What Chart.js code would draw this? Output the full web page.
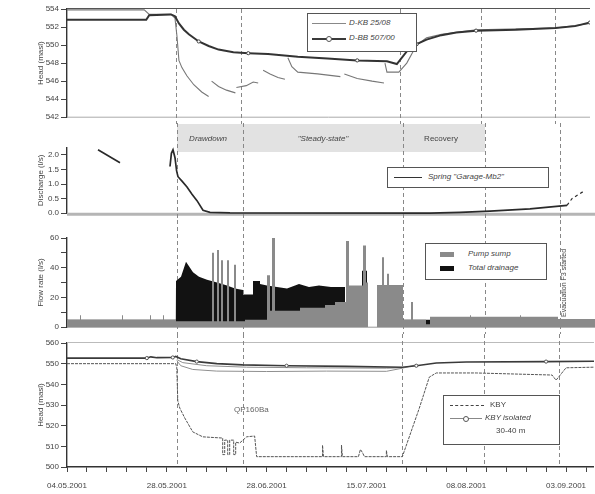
<!DOCTYPE html>
<html>
<head>
<meta charset="utf-8">
<script src="https://cdn.jsdelivr.net/npm/chart.js@4/dist/chart.umd.min.js"></script>
<style>
  body { margin:0; background:#fff; }
  #wrap { position:relative; width:595px; height:494px; background:#fff; overflow:hidden;
          font-family:"Liberation Sans", Arial, sans-serif; color:#444; }
  canvas { position:absolute; left:0; }
  .lg { position:absolute; border:1px solid #555; background:#fff; font-size:8px; }
  .ln { position:absolute; height:0; }
  .tx { position:absolute; white-space:nowrap; line-height:10px; font-size:8px; }
  .it { font-style:italic; }
  .dot { position:absolute; width:4px; height:4px; border:1px solid #555; border-radius:50%; background:#fff; }
  .sw { position:absolute; width:14px; height:5px; }
  .ctr { transform:translateX(-50%); }
</style>
</head>
<body>
<div id="wrap">
  <canvas id="c1" width="595" height="124" style="top:0"></canvas>
  <canvas id="c2" width="595" height="97" style="top:123px"></canvas>
  <canvas id="c3" width="595" height="114" style="top:220px"></canvas>
  <canvas id="c4" width="595" height="160" style="top:334px"></canvas>

  <div class="tx it ctr" style="left:208px;top:134px">Drawdown</div>
  <div class="tx it ctr" style="left:323px;top:134px">"Steady-state"</div>
  <div class="tx ctr" style="left:441px;top:134px">Recovery</div>

  <div class="lg" style="left:307px;top:13px;width:108px;height:37px">
    <div class="ln" style="left:4px;top:9px;width:34px;border-top:1px solid #888"></div>
    <div class="tx it" style="left:41px;top:4px">D-KB 25/08</div>
    <div class="ln" style="left:4px;top:24px;width:34px;border-top:2px solid #3a3a3a"></div>
    <div class="dot" style="left:18px;top:22px"></div>
    <div class="tx it" style="left:41px;top:19px">D-BB 507/00</div>
  </div>

  <div class="lg" style="left:387px;top:167px;width:160px;height:19px">
    <div class="ln" style="left:6px;top:9px;width:28px;border-top:1.5px solid #333"></div>
    <div class="tx it" style="left:40px;top:4px">Spring "Garage-Mb2"</div>
  </div>

  <div class="lg" style="left:425px;top:243px;width:120px;height:35px">
    <div class="sw" style="left:14px;top:8px;background:#8a8a8a"></div>
    <div class="tx it" style="left:42px;top:5px">Pump sump</div>
    <div class="sw" style="left:14px;top:22px;background:#111"></div>
    <div class="tx it" style="left:42px;top:19px">Total drainage</div>
  </div>

  <div class="lg" style="left:443px;top:395px;width:115px;height:48px">
    <div class="ln" style="left:6px;top:9px;width:34px;border-top:1px dashed #444"></div>
    <div class="tx" style="left:46px;top:4px">KBY</div>
    <div class="ln" style="left:6px;top:22px;width:32px;border-top:1px solid #888"></div>
    <div class="dot" style="left:19px;top:20px"></div>
    <div class="tx it" style="left:41px;top:17px">KBY isolated</div>
    <div class="tx" style="left:52px;top:30px">30-40 m</div>
  </div>

  <div class="tx" style="left:234px;top:405px;color:#666">QP160Ba</div>
  <div class="tx" style="left:564px;top:283px;font-size:7px;transform:translate(-50%,-50%) rotate(-90deg)">Evacuation F3 started</div>
</div>

<script>
Chart.defaults.font.family = '"Liberation Sans", Arial, sans-serif';
Chart.defaults.font.size = 8;
Chart.defaults.color = '#444';

// x in tick units (one minor tick of the date axis = 1)
const dateLabels = ['04.05.2001','28.05.2001','28.06.2001','15.07.2001','08.08.2001','03.09.2001'];
const phaseLines = [5.5, 8.8, 16.8, 20.9, 24.65];
const bandFrom = 5.5, bandTo = 20.9;

// head panel 1
const dbbX = [0,4.0,4.15,5.25,5.45,5.65,5.9,6.15,6.65,7.15,7.65,8.4,9.15,10.15,11.65,13.15,14.65,16.15,16.65,17.15,17.65,18.15,18.9,19.65,20.65,22.65,24.65,25.65,26.4];
const dbbY = [552.8,552.8,553.3,553.4,553.2,552.4,551.7,551.2,550.4,549.9,549.5,549.2,549.1,549.0,548.7,548.5,548.3,548.2,547.9,549.3,550.1,550.6,551.1,551.4,551.6,551.7,551.9,552.1,552.5];
const dkbX = [0,3.9,4.15,5.25,5.45,5.55,5.65,5.8,6.05,6.4,6.8,7.15,7.2,
              7.3,7.65,8.05,8.5,8.52,
              8.55,9.05,9.4,9.65,9.75,
              9.9,10.25,10.65,11.0,11.05,
              11.15,11.35,11.65,12.65,13.8,13.9,
              14.0,14.65,15.4,16.0,16.02,
              16.05,16.15,16.75,17.15,17.65,18.15,18.9,20.65,24.65,26.4];
const dkbY = [553.9,553.9,553.4,553.4,553.0,551.0,548.3,547.5,546.6,545.6,544.8,544.3,null,
              546.0,545.4,545.0,544.7,null,
              545.3,545.5,545.9,545.8,null,
              547.2,546.8,546.4,546.2,null,
              548.6,547.6,547.0,546.8,546.5,null,
              546.8,546.3,546.0,545.8,null,
              548.0,547.0,547.0,548.0,550.0,550.8,551.2,551.7,551.9,552.4];

// discharge panel
const springX = [1.55,2.65,2.7,5.15,5.22,5.3,5.4,5.48,5.55,5.75,6.0,6.25,6.5,6.8,7.15,8.15,18.15,19.65,21.15,23.15,25.0];
const springY = [2.17,1.73,null,1.6,2.05,2.17,1.9,1.45,1.25,1.1,0.9,0.65,0.43,0.1,0.03,0.01,0,0.03,0.07,0.15,0.27];
const springDashX = [25.0,25.25,25.9];
const springDashY = [0.27,0.5,0.78];

// flow rate panel
const sumpX = [0,0.65,0.7,2.75,2.8,4.15,4.2,4.8,4.85,5.45,7.25,7.35,7.5,7.6,7.7,7.8,8.0,8.1,8.35,8.45,8.9,10.0,10.15,10.25,10.4,11.65,12.9,13.4,13.95,14.1,14.8,14.95,15.05,15.5,15.75,15.85,16.0,16.1,16.8,17.2,17.3,17.95,18.15,20.15,20.2,22.65,22.7,24.55,26.4];
const sumpY = [5,8,5,8,5,8,5,8,5,4,50,4,52,4,45,4,45,4,42,4,5,35,11,60,11,13,15,17,58,28,55,30,0,28,47,28,36,28,5,17,5,2,7,8,7,8,7,5.5,5.5];
const drainX = [0,5.44,5.45,5.7,5.95,6.1,6.3,6.6,7.0,7.5,8.0,8.4,8.8,8.8,9.3,9.3,9.65,9.65,10.0,11.0,11.6,12.1,12.6,13.2,13.9,13.9,14.75,14.75,15.0,15.0,15.5,15.5,16.8,16.8,26.4];
const drainY = [5,5,31,34,44,41,37,34,32,30,28,26,25,22,22,31,31,29,28,26,29,27,28,27,27,5,5,38,38,0,0,28,28,5,5];

// head panel 4
const kbyX = [0,5.45,5.5,5.55,5.65,5.9,6.3,6.8,7.8,7.8,7.9,7.9,8.05,8.05,8.15,8.15,8.35,8.35,8.45,8.45,8.65,9.0,9.4,9.5,12.8,12.8,12.85,13.75,13.75,13.8,14.6,14.7,14.8,14.9,16.0,16.0,16.05,16.8,17.65,18.15,18.5,20.5,24.3,24.5,25.0,26.4];
const kbyY = [550,550,548,532,528.5,523.7,517,514.6,514,506,506,513,513,506,506,513,513,506,506,512,511.6,514.6,515,505,505,510.6,505,505,510.6,505,505,508.5,507,505,505,508,505,505,528.5,543.5,545.5,545.5,544.5,542,548,548.3];
const isoX = [0,4.0,4.2,4.5,5.3,5.45,5.7,6.5,7.5,8.8,11,14,16.8,17.5,18.5,20,24,26.4];
const isoY = [552.7,552.7,553.3,552.9,553.0,553.5,552.4,551,550,549.4,549,548.7,548.3,549,550.3,550.8,551,551.2];
const low1X = [5.5,5.7,6.3,7.5,10,13,16,16.8,17.5];
const low1Y = [551.5,549,547.2,546.4,546.2,546.4,546.3,547.8,549.5];
const low2X = [5.5,5.8,7,9,12,16,16.8];
const low2Y = [552,550.5,549,548.3,548,547.8,548];

const pts = (xs, ys) => xs.map((x, i) => ({ x, y: ys[i] }));

const framePlugin = {
  id: 'frame',
  beforeDatasetsDraw(chart, args, o) {
    const { ctx, chartArea: a, scales: { x } } = chart;
    ctx.save();
    if (o.band) {
      const xa = x.getPixelForValue(bandFrom), xb = x.getPixelForValue(bandTo);
      ctx.fillStyle = '#e2e2e2';
      ctx.fillRect(xa, 1, xb - xa, 28);
    }
    if (o.bottom) {
      ctx.strokeStyle = o.bottom.color; ctx.lineWidth = o.bottom.w;
      ctx.beginPath(); ctx.moveTo(a.left, a.bottom + (o.bottom.off || 0)); ctx.lineTo(a.right, a.bottom + (o.bottom.off || 0)); ctx.stroke();
    }
    if (o.top) {
      ctx.strokeStyle = o.top; ctx.lineWidth = 1.2;
      ctx.beginPath(); ctx.moveTo(a.left, a.top - 0.5); ctx.lineTo(a.right, a.top - 0.5); ctx.stroke();
    }
    ctx.strokeStyle = '#888'; ctx.lineWidth = 1; ctx.setLineDash([4, 3]);
    phaseLines.forEach(v => {
      const px = Math.round(x.getPixelForValue(v)) + 0.5;
      ctx.beginPath();
      ctx.moveTo(px, o.y0 === 'top' ? a.top : 0);
      ctx.lineTo(px, o.y1 === 'bottom' ? a.bottom : chart.height);
      ctx.stroke();
    });
    ctx.restore();
  }
};

const xHidden = { type: 'linear', min: 0, max: 26.4, display: false };

function yAxis(min, max, step, title, labelEvery) {
  const fmt = v => v.toFixed(step < 1 ? 1 : 0);
  return {
    type: 'linear', min, max,
    afterFit(s) { s.width = 35; },
    border: { color: '#333', width: 1.4 },
    grid: { drawOnChartArea: false, tickLength: 6, color: '#444' },
    ticks: {
      stepSize: step, includeBounds: false, padding: 2, color: '#444', font: { size: 8 },
      callback: v => labelEvery ? (Math.abs(v % labelEvery) < 1e-6 ? fmt(v) : '') : fmt(v)
    },
    title: { display: true, text: title, color: '#444', font: { size: 8 }, padding: { top: 4, bottom: 0 } }
  };
}

function opts(padTop, padBottom, y, frame, x) {
  return {
    responsive: false, animation: false,
    layout: { padding: { left: 32, right: 0, top: padTop, bottom: padBottom } },
    scales: { x: x || xHidden, y },
    elements: { point: { radius: 0 }, line: { tension: 0 } },
    plugins: { legend: { display: false }, tooltip: { enabled: false }, frame }
  };
}

new Chart(document.getElementById('c1'), {
  type: 'line',
  data: { datasets: [
    { label: 'D-BB 507/00', data: pts(dbbX, dbbY), borderColor: '#333', borderWidth: 2,
      pointRadius: c => (c.dataIndex > 5 && c.dataIndex % 4 === 0) ? 1.6 : 0,
      pointBackgroundColor: '#fff', pointBorderColor: '#444', pointBorderWidth: 1 },
    { label: 'D-KB 25/08', data: pts(dkbX, dkbY), borderColor: '#777', borderWidth: 1.1, spanGaps: false }
  ] },
  options: opts(9, 1, yAxis(542, 554, 2, 'Head (masl)'), { top: '#555', bottom: { color: '#aaa', w: 1 }, y0: 'top' }),
  plugins: [framePlugin]
});

new Chart(document.getElementById('c2'), {
  type: 'line',
  data: { datasets: [
    { label: 'Spring "Garage-Mb2"', data: pts(springX, springY), borderColor: '#2a2a2a', borderWidth: 1.7, spanGaps: false, clip: 4 },
    { label: 'dash', data: pts(springDashX, springDashY), borderColor: '#2a2a2a', borderWidth: 1.2, borderDash: [3, 3], clip: 4 }
  ] },
  options: opts(24.5, 5, yAxis(0, 2.25, 0.5, 'Discharge (l/s)'), { band: true, bottom: { color: '#b5b5b5', w: 3, off: 1 } }),
  plugins: [framePlugin]
});

new Chart(document.getElementById('c3'), {
  type: 'line',
  data: { datasets: [
    { label: 'Pump sump', data: pts(sumpX, sumpY), stepped: true, borderWidth: 0, borderColor: 'rgba(0,0,0,0)',
      backgroundColor: '#8a8a8a', fill: 'origin' },
    { label: 'Total drainage', data: pts(drainX, drainY), borderWidth: 0, borderColor: 'rgba(0,0,0,0)',
      backgroundColor: '#121212', fill: 'origin' }
  ] },
  options: opts(18, 5, yAxis(0, 60, 10, 'Flow rate (l/s)', 20), { bottom: { color: '#999', w: 1 } }),
  plugins: [framePlugin]
});

new Chart(document.getElementById('c4'), {
  type: 'line',
  data: { datasets: [
    { label: 'KBY isolated 30-40 m', data: pts(isoX, isoY), borderColor: '#3a3a3a', borderWidth: 1.6,
      pointRadius: c => (c.dataIndex % 3 === 1) ? 1.6 : 0,
      pointBackgroundColor: '#fff', pointBorderColor: '#555', pointBorderWidth: 1 },
    { label: 'low1', data: pts(low1X, low1Y), borderColor: '#8f8f8f', borderWidth: 1 },
    { label: 'low2', data: pts(low2X, low2Y), borderColor: '#8f8f8f', borderWidth: 1 },
    { label: 'KBY', data: pts(kbyX, kbyY), borderColor: '#555', borderWidth: 1, borderDash: [3, 1] }
  ] },
  options: opts(9, 0, yAxis(500, 560, 5, 'Head (masl)', 10), { top: '#bbb', y1: 'bottom' }, {
    type: 'linear', min: 0, max: 26.4,
    afterFit(s) { s.height = 27; },
    border: { color: '#333', width: 1.4 },
    grid: { drawOnChartArea: false, tickLength: 5, color: '#444' },
    ticks: {
      stepSize: 1, autoSkip: false, maxRotation: 0, includeBounds: false, padding: 9, color: '#444', font: { size: 8 },
      callback: v => (Number.isInteger(v) && v % 5 === 0) ? dateLabels[v / 5] : ''
    }
  }),
  plugins: [framePlugin]
});
</script>
</body>
</html>
